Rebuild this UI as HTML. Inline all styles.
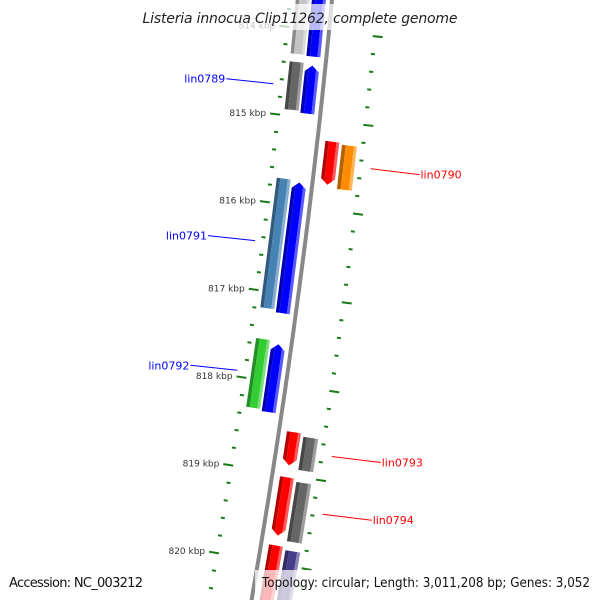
<!DOCTYPE html>
<html><head><meta charset="utf-8"><style>
html,body{margin:0;padding:0;background:#fff;overflow:hidden;}
svg{display:block;font-family:"DejaVu Sans","Liberation Sans",sans-serif;}
</style></head><body>
<svg id="map" width="600" height="600" viewBox="0 0 600 600">
<rect width="600" height="600" fill="#fff"/>
<g id="ticks"></g>
<path id="backbone" fill="none" stroke="#888" stroke-width="4"/>
<g id="features"></g>
<g id="labels"></g>
<rect x="138" y="4" width="324" height="26" fill="#fff" opacity="0.72"/>
<text x="300" y="23" text-anchor="middle" font-size="14" font-style="italic" fill="#222" textLength="315">Listeria innocua Clip11262, complete genome</text>
<text x="9" y="587" font-size="13" fill="#111" textLength="134">Accession: NC_003212</text>
<rect x="255" y="570" width="345" height="30" fill="#fff" opacity="0.72"/>
<text x="262" y="587" font-size="13" fill="#111" textLength="328" lengthAdjust="spacingAndGlyphs">Topology: circular; Length: 3,011,208 bp; Genes: 3,052</text>
</svg>
<script>
// genome data (bp)
const leftOuterStart = [813288, 814388, 815714, 817540];
const leftOuterEnd   = [814297, 814932, 817189, 818323];
const leftOuterColor = ['#c4c4c4', '#666666', '#4682b4', '#33cc33'];
const leftInnerStart = [813288, 814410, 815737, 817574];
const leftInnerEnd   = [814308, 814955, 817223, 818345];
const rightInnerStart = [815238, 818527, 819037, 819808];
const rightInnerEnd   = [815726, 818901, 819695, 821022];
const rightOuterStart = [815261, 818561, 819071, 819842];
const rightOuterEnd   = [815760, 818935, 819740, 821022];
const rightOuterColor = ['#ff8c00', '#666666', '#666666', '#483d8b'];
const tickKbp = [814, 815, 816, 817, 818, 819, 820, 821];
const geneNames = ['lin0789', 'lin0791', 'lin0792', 'lin0790', 'lin0793', 'lin0794'];
const geneLabelBp = [814660, 816450, 817930, 815490, 818730, 819380];
const geneSide = ['left', 'left', 'left', 'right', 'right', 'right'];

const NS = 'http://www.w3.org/2000/svg';
function tOf(bp){ return 119 + (bp - 815000) * 0.0882; }
function bx(t){ return 332 - 0.095*t - 0.000065*t*t; }
function slope(t){ return -0.095 - 0.00013*t; }
function pt(t, off){
  const s = slope(t), n = Math.sqrt(1 + s*s);
  return [bx(t) + off/n, t - off*s/n];
}
function mk(tag, attrs, parent){
  const e = document.createElementNS(NS, tag);
  for (const k in attrs) e.setAttribute(k, attrs[k]);
  parent.appendChild(e); return e;
}
let d = '';
for (let t = -20; t <= 640; t += 10){ const p = pt(t, 0); d += (d ? 'L' : 'M') + p[0].toFixed(1) + ',' + p[1].toFixed(1); }
document.getElementById('backbone').setAttribute('d', d);

const tg = document.getElementById('ticks');
for (let bp = 813800; bp <= 821200; bp += 200){
  const t = tOf(bp), major = bp % 1000 === 0;
  const a = pt(t, major ? -50 : -44), b = pt(t, -40);
  const l = mk('line', {x1:a[0], y1:a[1], x2:b[0], y2:b[1], stroke:'#1a7a1a', 'stroke-width':2}, tg);
  
  
  const c = pt(t + 1, 44), e = pt(t + 1, major ? 54 : 48);
  const r = mk('line', {x1:c[0], y1:c[1], x2:e[0], y2:e[1], stroke:'#1a7a1a', 'stroke-width':2}, tg);
  
  
}
tickKbp.forEach(k => {
  const p = pt(tOf(k*1000), -54);
  const tx = mk('text', {x:p[0], y:p[1]+3, 'text-anchor':'end', 'font-size':9, fill:'#333'}, tg);
  tx.textContent = k + ' kbp';
  
  
});

const fg = document.getElementById('features');
function shade(hex, f){
  const n = parseInt(hex.slice(1), 16);
  let r = n>>16, g = (n>>8)&255, b = n&255;
  const m = v => Math.max(0, Math.min(255, Math.round(f > 0 ? v + (255-v)*f : v*(1+f))));
  return 'rgb(' + m(r) + ',' + m(g) + ',' + m(b) + ')';
}
function feature(bp0, bp1, o0, o1, color, arrow, name){
  const t0 = tOf(bp0), t1 = tOf(bp1), w = o1 - o0;
  const strips = [[o0, o0 + w*0.25, -0.3], [o0 + w*0.25, o1 - w*0.2, 0], [o1 - w*0.2, o1, 0.35]];
  const grp = mk('g', {}, fg);
  
  
  const mid = (o0 + o1)/2, ah = 6;
  strips.forEach(s => {
    const pts = [];
    const yTop = (o) => arrow === 'up' ? t0 + ah * (Math.abs(o - mid)/(w/2)) : t0;
    const yBot = (o) => arrow === 'down' ? t1 - ah * (Math.abs(o - mid)/(w/2)) : t1;
    const xs = [s[0]]; if (mid > s[0] && mid < s[1]) xs.push(mid); xs.push(s[1]);
    xs.forEach(o => pts.push(pt(yTop(o), o)));
    xs.slice().reverse().forEach(o => pts.push(pt(yBot(o), o)));
    mk('polygon', {points: pts.map(p => p[0].toFixed(1)+','+p[1].toFixed(1)).join(' '), fill: shade(color, s[2])}, grp);
  });
}
leftOuterStart.forEach((s,i) => feature(s, leftOuterEnd[i], -36, -22, leftOuterColor[i], null, 'gene-left-outer'));
leftInnerStart.forEach((s,i) => feature(s, leftInnerEnd[i], -20, -6, '#0000ff', 'up', 'gene-forward'));
rightInnerStart.forEach((s,i) => feature(s, rightInnerEnd[i], 8, 22, '#ff0000', 'down', 'gene-reverse'));
rightOuterStart.forEach((s,i) => feature(s, rightOuterEnd[i], 25, 40, rightOuterColor[i], null, 'gene-right-outer'));

const lg = document.getElementById('labels');
geneNames.forEach((nm, i) => {
  const t = tOf(geneLabelBp[i]);
  const left = geneSide[i] === 'left';
  const col = left ? '#0000ff' : '#ff0000';
  const a = pt(t, left ? -50 : 56);
  const b = [a[0] + (left ? -47 : 49), a[1] - (left ? 5 : -6)];
  const ln = mk('line', {x1:a[0], y1:a[1], x2:b[0], y2:b[1], stroke:col, 'stroke-width':1}, lg);
  
  
  const tx = mk('text', {x: b[0] + (left ? -1 : 1), y: b[1] + 4, 'text-anchor': left ? 'end' : 'start', 'font-size':11, fill:col}, lg);
  tx.textContent = nm;
  
  
});
</script>
</body></html>
